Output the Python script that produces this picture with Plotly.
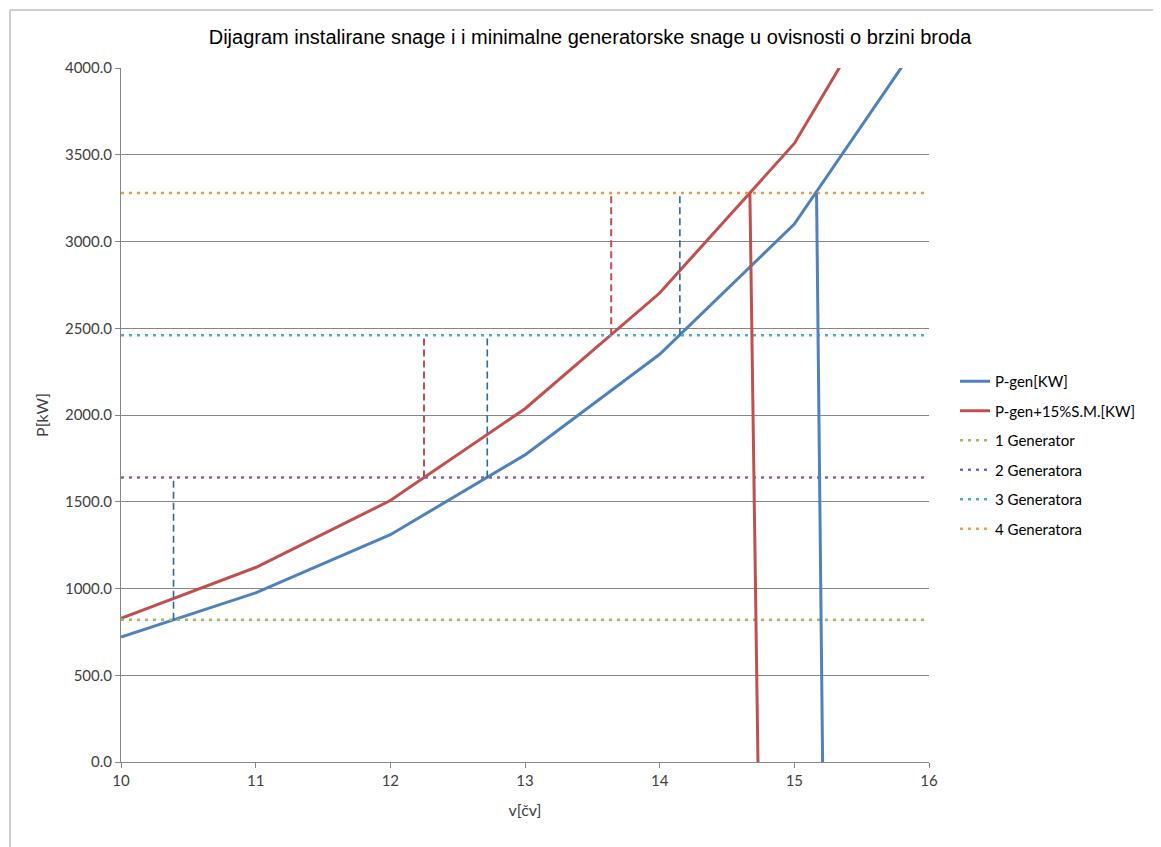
import plotly.graph_objects as go

# ---- data ----
v = [10, 11, 12, 13, 14, 15, 16]
p_gen = [720, 975, 1310, 1770, 2350, 3100, 4235]
p_gen_sm = [828, 1121, 1507, 2036, 2703, 3565, 4870]

gen_names = ["1 Generator", "2 Generatora", "3 Generatora", "4 Generatora"]
gen_levels = [820, 1640, 2460, 3280]
gen_colors = ["#9BBB59", "#8064A2", "#4BACC6", "#F79646"]
gen_span = [10, 16]

# vertical cut-off lines (at 4 generators limit)
cut_p = [3280, 0]
blue_cut_v = [15.165, 15.21]
red_cut_v = [14.67, 14.73]

# dashed switching lines: (speed, from power, to power)
blue_dash_v = [10.39, 12.72, 14.15]
blue_dash_from = [820, 1640, 2460]
blue_dash_to = [1640, 2460, 3280]
red_dash_v = [12.25, 13.64]
red_dash_from = [1640, 2460]
red_dash_to = [2460, 3280]

BLUE = "#4F81BD"
RED = "#C0504D"

fig = go.Figure()

fig.add_trace(go.Scatter(x=v, y=p_gen, mode="lines", name="P-gen[KW]",
                         line=dict(color=BLUE, width=3), legendgroup="a"))
fig.add_trace(go.Scatter(x=v, y=p_gen_sm, mode="lines", name="P-gen+15%S.M.[KW]",
                         line=dict(color=RED, width=3), legendgroup="b"))

for i, (n, lv, c) in enumerate(zip(gen_names, gen_levels, gen_colors)):
    fig.add_trace(go.Scatter(x=gen_span, y=[lv, lv], mode="lines", name=n,
                             line=dict(color=c, width=2.5, dash="3px,5px"),
                             legendgroup="g%d" % i))

fig.add_trace(go.Scatter(x=blue_cut_v, y=cut_p, mode="lines", showlegend=False,
                         line=dict(color=BLUE, width=3)))
fig.add_trace(go.Scatter(x=red_cut_v, y=cut_p, mode="lines", showlegend=False,
                         line=dict(color=RED, width=3)))

for xv, y0, y1 in zip(blue_dash_v, blue_dash_from, blue_dash_to):
    fig.add_trace(go.Scatter(x=[xv, xv], y=[y0, y1], mode="lines", showlegend=False,
                             line=dict(color="#2A6A9C", width=1.6, dash="7px,4px")))
for xv, y0, y1 in zip(red_dash_v, red_dash_from, red_dash_to):
    fig.add_trace(go.Scatter(x=[xv, xv], y=[y0, y1], mode="lines", showlegend=False,
                             line=dict(color="#C0504D", width=2, dash="7px,4px")))

# page has an 8px body margin; work in figure coordinates
OFF = 8
W, H = 1161 - OFF, 847 - OFF
L, R, T, B = 121 - OFF, 929 - OFF, 68 - OFF, 762 - OFF
pw, ph = R - L, B - T

def px(xp):
    return (xp - OFF - L) / pw

def py(yp):
    return (B - (yp - OFF)) / ph

fig.update_layout(
    width=W, height=H, autosize=False,
    margin=dict(l=L, r=W - R, t=T, b=H - B, pad=0),
    paper_bgcolor="white", plot_bgcolor="white",
    font=dict(family="Lato, 'Open Sans', sans-serif", size=15, color="#404040"),
    title=dict(text="Dijagram instalirane snage i i minimalne generatorske snage u ovisnosti o brzini broda",
               x=(590 - OFF) / W, xref="container", xanchor="center",
               y=1 - (37 - OFF) / H, yref="container", yanchor="middle",
               font=dict(family="'Liberation Sans', Arial, sans-serif", size=20, color="#000000")),
    xaxis=dict(range=[10, 16], tickvals=[10, 11, 12, 13, 14, 15, 16],
               showgrid=False, zeroline=False,
               showline=True, linecolor="#868686", linewidth=1,
               ticks="outside", ticklen=5, tickcolor="#868686",
               tickfont=dict(size=15, color="#404040"),
               title=dict(text="v[čv]", standoff=16, font=dict(size=16, color="#404040"))),
    yaxis=dict(range=[0, 4000], dtick=500, tick0=0, tickformat=".1f",
               showgrid=True, gridcolor="#868686", gridwidth=1, zeroline=False,
               showline=True, linecolor="#868686", linewidth=1,
               ticks="outside", ticklen=5, tickcolor="#868686",
               tickfont=dict(size=15, color="#404040"),
               title=dict(text="P[kW]", standoff=12, font=dict(size=16, color="#404040"))),
    legend=dict(x=px(955), xanchor="left", y=py(455), yanchor="middle",
                font=dict(size=15, color="#000000"), tracegroupgap=7,
                bgcolor="rgba(0,0,0,0)"),
    showlegend=True,
)

# outer chart border (top and left visible)
fig.add_shape(type="line", xref="paper", yref="paper",
              x0=px(10), y0=py(10), x1=px(1170), y1=py(10),
              line=dict(color="#A0A0A0", width=1))
fig.add_shape(type="line", xref="paper", yref="paper",
              x0=px(10), y0=py(10), x1=px(10), y1=py(860),
              line=dict(color="#A0A0A0", width=1))

fig.write_html("out.html")
